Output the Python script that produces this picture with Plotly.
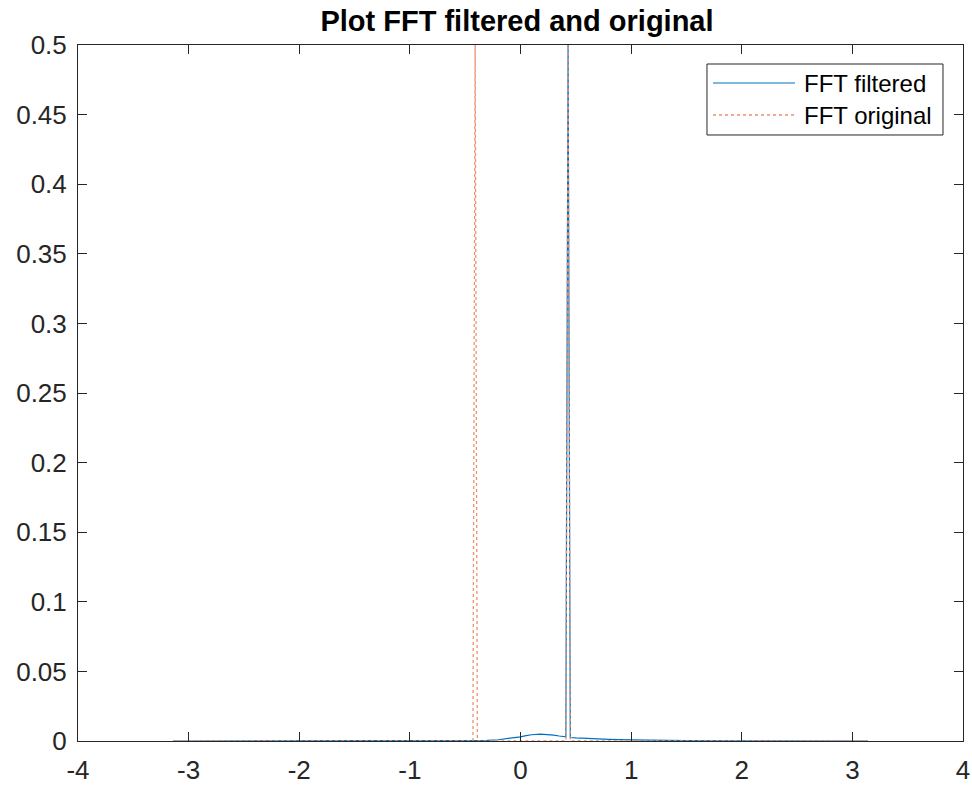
import plotly.graph_objects as go

# FFT filtered (blue) - frequency (rad/sample) and magnitude
filt_freq = [-3.1416, -1.5, -1.0, -0.5, -0.3, -0.2, -0.1, 0.0, 0.05, 0.1, 0.18, 0.25, 0.3, 0.35, 0.41,
             0.43, 0.45, 0.5, 0.6, 0.8, 1.0, 1.2, 1.5, 2.0, 3.1416]
filt_mag = [0.0, 0.0, 0.0, 0.0001, 0.0004, 0.0009, 0.0018, 0.003, 0.0038, 0.0045, 0.005, 0.0047, 0.0042,
            0.0036, 0.003, 0.5, 0.0025, 0.0022, 0.0018, 0.0012, 0.0008, 0.0004, 0.0002, 0.0001, 0.0]

# FFT original (orange dotted)
orig_freq = [-3.1416, -0.43, -0.41, -0.39, 0.41, 0.43, 0.45, 3.1416]
orig_mag = [0.0, 0.0, 0.5, 0.0, 0.0, 0.5, 0.0, 0.0]

series_names = ["FFT filtered", "FFT original"]
series_colors = ["#0072BD", "#EE9070"]

x_ticks = [-4, -3, -2, -1, 0, 1, 2, 3, 4]
x_labels = ["-4", "-3", "-2", "-1", "0", "1", "2", "3", "4"]
y_ticks = [0, 0.05, 0.1, 0.15, 0.2, 0.25, 0.3, 0.35, 0.4, 0.45, 0.5]
y_labels = ["0", "0.05", "0.1", "0.15", "0.2", "0.25", "0.3", "0.35", "0.4", "0.45", "0.5"]

FONT = "Liberation Sans, Arial, Helvetica"

fig = go.Figure()
fig.add_trace(go.Scatter(x=filt_freq, y=filt_mag, mode="lines", name=series_names[0],
                         line=dict(color=series_colors[0], width=1.2), showlegend=False))
fig.add_trace(go.Scatter(x=orig_freq, y=orig_mag, mode="lines", name=series_names[1],
                         line=dict(color=series_colors[1], width=1.3, dash="dot"), showlegend=False))

axis_common = dict(showgrid=False, zeroline=False, showline=True, linecolor="#262626", linewidth=1,
                   mirror="ticks", ticks="inside", ticklen=9, tickcolor="#262626", automargin=False,
                   tickfont=dict(family=FONT, size=26, color="#262626"))

# Manual MATLAB-style legend (paper coordinates of plot area)
shapes = [
    dict(type="rect", xref="paper", yref="paper", x0=0.7107, x1=0.9774, y0=0.8707, y1=0.9727,
         line=dict(color="#262626", width=1), fillcolor="white", layer="above"),
    dict(type="line", xref="paper", yref="paper", x0=0.7175, x1=0.8102, y0=0.9454, y1=0.9454,
         line=dict(color=series_colors[0], width=1.2), layer="above"),
    dict(type="line", xref="paper", yref="paper", x0=0.7175, x1=0.8102, y0=0.8994, y1=0.8994,
         line=dict(color=series_colors[1], width=1.3, dash="dot"), layer="above"),
]
annotations = [
    dict(text=series_names[0], xref="paper", yref="paper", x=0.818, y=0.9454, xanchor="left",
         yanchor="middle", showarrow=False, font=dict(family=FONT, size=24, color="#000000")),
    dict(text=series_names[1], xref="paper", yref="paper", x=0.818, y=0.8994, xanchor="left",
         yanchor="middle", showarrow=False, font=dict(family=FONT, size=24, color="#000000")),
]

fig.update_layout(
    width=972, height=786,
    margin=dict(l=78, r=9, t=45, b=45, autoexpand=False),
    paper_bgcolor="white", plot_bgcolor="white",
    title=dict(text="<b>Plot FFT filtered and original</b>", x=(517 / 972), xanchor="center",
               y=1 - 21 / 786, yanchor="middle", automargin=False,
               font=dict(family=FONT, size=29, color="#000000")),
    xaxis=dict(range=[-4, 4], tickvals=x_ticks, ticktext=x_labels, ticklabelstandoff=6, **axis_common),
    yaxis=dict(range=[0, 0.5], tickvals=y_ticks, ticktext=y_labels, ticklabelstandoff=5, **axis_common),
    shapes=shapes,
    annotations=annotations,
    showlegend=False,
)

fig.write_html("out.html", config={"displayModeBar": False},
               post_script="document.body.style.margin='0';document.body.style.overflow='hidden';")
